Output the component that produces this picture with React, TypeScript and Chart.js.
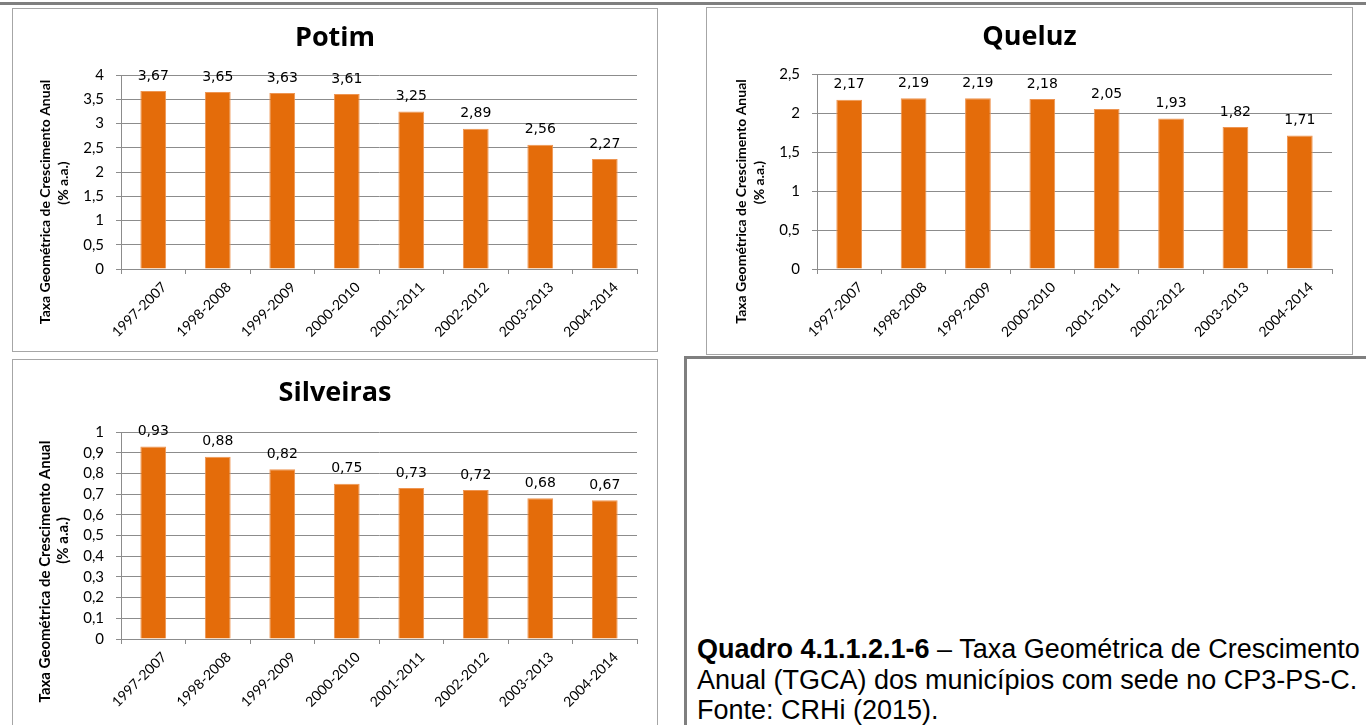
import React, { useEffect, useRef } from 'react';
import { Chart, registerables } from 'chart.js';

Chart.register(...registerables);

// Periods of the growth-rate series
const periods = ['1997-2007', '1998-2008', '1999-2009', '2000-2010', '2001-2011', '2002-2012', '2003-2013', '2004-2014'];

// TGCA (% a.a.) per municipality
const potimRates = [3.67, 3.65, 3.63, 3.61, 3.25, 2.89, 2.56, 2.27];
const queluzRates = [2.17, 2.19, 2.19, 2.18, 2.05, 1.93, 1.82, 1.71];
const silveirasRates = [0.93, 0.88, 0.82, 0.75, 0.73, 0.72, 0.68, 0.67];

const yTitleLines = ['Taxa Geométrica de Crescimento Anual', '(% a.a.)'];

const BAR_COLOR = '#E46C0A';
const BAR_EDGE = '#EE9552';
const GRID_COLOR = '#8C8C8C';
const FRAME_COLOR = '#A6A6A6';

const commaDecimal = (v: number, digits: number) => v.toFixed(digits).replace('.', ',');
const tickText = (v: number) => String(Number(v.toFixed(2))).replace('.', ',');

// Value printed above every bar
const valueLabels = {
  id: 'valueLabels',
  afterDatasetsDraw(chart: any, _args: any, opts: any) {
    const { ctx } = chart;
    const meta = chart.getDatasetMeta(0);
    const values = chart.data.datasets[0].data as number[];
    ctx.save();
    ctx.font = opts.font;
    ctx.fillStyle = '#000';
    ctx.textAlign = 'center';
    ctx.textBaseline = 'middle';
    meta.data.forEach((bar: any, i: number) => {
      ctx.fillText(commaDecimal(values[i], 2), bar.x, bar.y - opts.gap);
    });
    ctx.restore();
  },
};

// Panel heading, centred on the frame
const panelHeading = {
  id: 'panelHeading',
  afterDraw(chart: any, _args: any, opts: any) {
    const { ctx } = chart;
    ctx.save();
    ctx.font = opts.font;
    ctx.fillStyle = '#000';
    ctx.textAlign = 'center';
    ctx.textBaseline = 'middle';
    ctx.fillText(opts.text, opts.x, opts.y);
    ctx.restore();
  },
};

// Two-line rotated caption of the value axis
const axisCaption = {
  id: 'axisCaption',
  afterDraw(chart: any, _args: any, opts: any) {
    const { ctx, chartArea } = chart;
    const mid = (chartArea.top + chartArea.bottom) / 2;
    ctx.save();
    ctx.font = opts.font;
    ctx.fillStyle = '#000';
    ctx.textAlign = 'center';
    ctx.textBaseline = 'middle';
    (opts.lines as string[]).forEach((line, i) => {
      ctx.save();
      ctx.translate(opts.x[i], mid + opts.dy[i]);
      ctx.rotate(-Math.PI / 2);
      ctx.fillText(line, 0, 0);
      ctx.restore();
    });
    ctx.restore();
  },
};

type Rect = { x: number; y: number; w: number; h: number };
type Plot = { l: number; t: number; r: number; b: number };

type PanelProps = {
  title: string;
  values: number[];
  max: number;
  step: number;
  box: Rect;
  plot: Plot;
  titleY: number;
  captionX: number[];
  captionDy: number[];
  captionSize: number;
};

function BarPanel({ title, values, max, step, box, plot, titleY, captionX, captionDy, captionSize }: PanelProps) {
  const ref = useRef<HTMLCanvasElement>(null);
  const cw = box.w - 2;
  const ch = box.h - 2;

  useEffect(() => {
    const canvas = ref.current;
    if (!canvas) return;
    const ox = box.x + 1;
    const oy = box.y + 1;
    const L = plot.l - ox;
    const R = plot.r - ox;
    const T = plot.t - oy;
    const B = plot.b - oy;

    const chart = new Chart(canvas, {
      type: 'bar',
      data: {
        labels: periods,
        datasets: [
          {
            data: values,
            backgroundColor: BAR_COLOR,
            borderColor: BAR_EDGE,
            borderWidth: 1,
            barPercentage: 0.4,
            categoryPercentage: 1,
          },
        ],
      },
      options: {
        responsive: false,
        animation: false,
        layout: { padding: { left: 0, right: cw - R, top: T, bottom: 0 } },
        plugins: {
          legend: { display: false },
          tooltip: { enabled: false },
          title: { display: false },
          panelHeading: { text: title, font: 'bold 27px "Open Sans"', x: (box.w - 2) / 2, y: titleY - oy },
          valueLabels: { font: '14px "DejaVu Sans"', gap: 15 },
          axisCaption: {
            font: `bold ${captionSize}px Lato`,
            lines: yTitleLines,
            x: captionX.map((v) => v - ox),
            dy: captionDy,
          },
        } as any,
        scales: {
          x: {
            grid: { display: true, drawOnChartArea: false, drawTicks: true, tickLength: 5, color: GRID_COLOR, offset: true },
            border: { display: true, color: GRID_COLOR },
            ticks: {
              minRotation: 45,
              maxRotation: 45,
              autoSkip: false,
              color: '#000',
              padding: 5,
              labelOffset: 11,
              font: { family: 'Lato', size: 14 },
            },
            afterFit: (s: any) => {
              s.height = ch - B;
            },
          },
          y: {
            min: 0,
            max,
            grid: { color: GRID_COLOR, tickLength: 5 },
            border: { display: true, color: GRID_COLOR },
            ticks: {
              stepSize: step,
              autoSkip: false,
              color: '#000',
              padding: 12,
              font: { family: 'Lato', size: 15 },
              callback: (v: any) => tickText(Number(v)),
            },
            afterFit: (s: any) => {
              s.width = L;
            },
          },
        },
      },
      plugins: [valueLabels, panelHeading, axisCaption],
    });
    return () => chart.destroy();
  }, []);

  return (
    <div
      style={{
        position: 'absolute',
        left: box.x,
        top: box.y,
        width: box.w,
        height: box.h,
        border: `1px solid ${FRAME_COLOR}`,
        boxSizing: 'border-box',
        background: '#fff',
      }}
    >
      <canvas ref={ref} width={cw} height={ch} style={{ display: 'block', width: cw, height: ch }} />
    </div>
  );
}

export default function App() {
  return (
    <div
      style={{
        position: 'absolute',
        left: 0,
        top: 0,
        width: 1366,
        height: 725,
        overflow: 'hidden',
        background: '#fff',
      }}
    >
      <div style={{ position: 'absolute', left: 0, top: 2, width: 1366, height: 3, background: '#7F7F7F' }} />

      <BarPanel
        title="Potim"
        values={potimRates}
        max={4}
        step={0.5}
        box={{ x: 12, y: 8, w: 646, h: 344 }}
        plot={{ l: 121, t: 75, r: 637, b: 269 }}
        titleY={38}
        captionX={[45, 63]}
        captionDy={[30, 11]}
        captionSize={14}
      />

      <BarPanel
        title="Queluz"
        values={queluzRates}
        max={2.5}
        step={0.5}
        box={{ x: 706, y: 7, w: 647, h: 348 }}
        plot={{ l: 817, t: 74, r: 1332, b: 269 }}
        titleY={37}
        captionX={[741, 759]}
        captionDy={[30, 11]}
        captionSize={14}
      />

      <BarPanel
        title="Silveiras"
        values={silveirasRates}
        max={1}
        step={0.1}
        box={{ x: 12, y: 359, w: 646, h: 380 }}
        plot={{ l: 121, t: 432, r: 637, b: 639 }}
        titleY={393}
        captionX={[45, 63]}
        captionDy={[36, 5]}
        captionSize={15}
      />

      <div style={{ position: 'absolute', left: 684, top: 356, width: 682, height: 3, background: '#7F7F7F' }} />
      <div style={{ position: 'absolute', left: 684, top: 356, width: 3, height: 369, background: '#7F7F7F' }} />

      <div
        style={{
          position: 'absolute',
          left: 697,
          top: 634,
          font: '27px "Liberation Sans", Arial, sans-serif',
          lineHeight: '30.5px',
          whiteSpace: 'nowrap',
          color: '#000',
        }}
      >
        <b>Quadro 4.1.1.2.1-6</b> – Taxa Geométrica de Crescimento
        <br />
        Anual (TGCA) dos municípios com sede no CP3-PS-C.
        <br />
        Fonte: CRHi (2015).
      </div>
    </div>
  );
}
